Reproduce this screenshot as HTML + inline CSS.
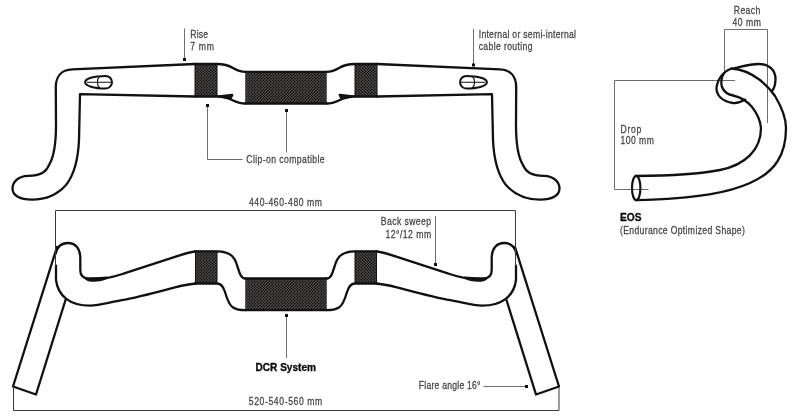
<!DOCTYPE html>
<html><head><meta charset="utf-8">
<style>
html,body{margin:0;padding:0;background:#fff;width:800px;height:417px;overflow:hidden}
svg{display:block;will-change:transform}
text{font-family:"Liberation Sans",sans-serif;fill:#444;font-size:10.5px;stroke:#444;stroke-width:0.25px}
.b{fill:#0a0a0a;stroke:#0a0a0a;stroke-width:0.3px;font-weight:bold}
.o{fill:none;stroke:#111;stroke-width:2.3;stroke-linecap:round;stroke-linejoin:round}
.g{fill:none;stroke:#3a3a3a;stroke-width:1}
.gl{fill:none;stroke:#6e6e6e;stroke-width:1}
</style></head>
<body>
<svg width="800" height="417" viewBox="0 0 800 417">
<defs>
<pattern id="tex" width="3" height="3" patternUnits="userSpaceOnUse">
<rect width="3" height="3" fill="#4a4545"/>
<circle cx="0.75" cy="0.75" r="0.75" fill="#0a0a0a"/>
<circle cx="2.25" cy="2.25" r="0.75" fill="#0a0a0a"/>
</pattern>
<g id="topL">
<path class="o" d="M195,64 C150,66 110,68 72,69.4 C62,69.8 55.8,76 55.8,87 L56,125 C56,145 54,157 49,165 C46,172 41,175.5 28,175.8 C18,176 12.5,182 12.5,188.5 C12.5,195 19,199.6 32,199.6 C47,199.6 58,194 66,185 C74,175 78,162 79,140 L80,94.2 L195,96.5"/>
<rect x="195" y="64" width="22" height="32.5" fill="url(#tex)" stroke="#111" stroke-width="1"/>
<path stroke="#111" stroke-width="1" d="M246,72 L246,103.5"/>
<path class="o" d="M195,64 L217,64 C223,64 228,65 233,68 C237,70.5 240,71.8 245.5,71.8"/>
<path class="o" d="M195,96.5 L217,96.5 C224,96.8 228,98 231.5,99.7 C236,102 239,103.5 245.5,103.5"/>
<path fill="#111" d="M217,95.6 L232,93.8 C233.4,93.7 233.8,94.8 233.2,95.8 L231.2,99.6 C226,97.6 222,97 217,97 Z"/>
<path fill="#fff" stroke="#111" stroke-width="2" transform="translate(0.8,0)" d="M84.3,82.2 C84.3,78.6 93,75.9 104.9,75.9 A6.3,6.3 0 0 1 104.9,88.5 C93,88.5 84.3,85.8 84.3,82.2 Z"/>
<path fill="none" stroke="#111" stroke-width="1.1" transform="translate(0.8,0)" d="M99,76.3 C95.8,79 95.8,85.5 99,88.2 M86,82.2 L110.5,82.2"/>
</g>
<g id="botL">
<path class="o" d="M57,247 L13,386.5 L36,394.5 L65.5,300"/>
<path class="o" d="M55.5,254 C57,247 61,243 67.8,243 C75,243 80.3,248 80.3,258 L80.3,270 C80.3,275.5 82.5,278.2 88,278.4 C98,278.6 104,278 110,277.3 C117,276 121,274.5 125,273.2 C135,270 150,265 175,256.8 C185,253.5 190,252 196,251.5"/>
<path fill="#111" d="M84,278 C90,279 102,278.8 111,277 C106,280.5 99,281.8 92,281.8 C88,281.8 85.5,280.5 84,278 Z"/>
<path class="o" d="M56,265.6 L56,280 C58,296 70,305.6 90,305.6 C100,305.6 110,302 125,299.6 C140,296.5 150,294 175,287.3 C185,285 190,284 196,283.5"/>
<rect x="195.5" y="251.3" width="21.5" height="32.2" fill="url(#tex)" stroke="#111" stroke-width="1"/>
<path stroke="#111" stroke-width="1" d="M246,278.5 L246,310.2"/>
<path class="o" d="M195,251.3 L217,251.3 C227,251.3 232,254 235,260 C237.5,265 238.5,271 240.5,275 C241.5,277 243,278.5 245.5,278.5"/>
<path class="o" d="M195,283.5 L217,283.5 C221.5,283.5 223.5,287 225,292 C227,299 229,305 233,307.5 C236,309.3 239,310.2 245.5,310.2"/>
</g>
</defs>
<rect width="800" height="417" fill="#fff"/>
<!-- top handlebar -->
<use href="#topL"/>
<use href="#topL" transform="translate(572,0) scale(-1,1)"/>
<!-- bottom handlebar -->
<use href="#botL"/>
<use href="#botL" transform="translate(572,0) scale(-1,1)"/>
<!-- center textures -->
<rect x="245.5" y="71.8" width="81" height="31.7" fill="url(#tex)"/>
<path class="o" d="M245.5,71.8 L326.5,71.8 M245.5,103.5 L326.5,103.5"/>
<rect x="245.5" y="278.5" width="81" height="31.7" fill="url(#tex)"/>
<path class="o" d="M245.5,278.5 L326.5,278.5 M245.5,310.2 L326.5,310.2"/>

<!-- brackets -->
<path class="g" d="M55.5,266 L55.5,210.5 L515.5,210.5 L515.5,266"/>
<path class="g" d="M13.5,386.5 L13.5,410.5 L559,410.5 L559,387"/>

<!-- leaders -->
<path class="gl" d="M184.5,28.5 L184.5,59"/>
<rect x="183" y="58" width="3" height="3" fill="#111"/>
<path class="gl" d="M473.5,29 L473.5,64"/>
<rect x="472" y="63.5" width="3" height="3" fill="#111"/>
<path class="gl" d="M207.5,105 L207.5,159.5 L242.5,159.5"/>
<rect x="206" y="104" width="3" height="3" fill="#111"/>
<path class="gl" d="M286.5,110 L286.5,152.5"/>
<rect x="285" y="109" width="3" height="3" fill="#111"/>
<path class="gl" d="M435.5,216 L435.5,263"/>
<rect x="434" y="263" width="3" height="3" fill="#111"/>
<path class="gl" d="M286.5,316 L286.5,358"/>
<rect x="285" y="314" width="3" height="3" fill="#111"/>
<path class="gl" d="M483.5,386.5 L526,386.5"/>
<rect x="525" y="385" width="3" height="3" fill="#111"/>

<!-- EOS -->
<path class="gl" d="M724.5,71 L724.5,29.5 L767.5,29.5 L767.5,123"/>
<path class="gl" d="M735,80.5 L614.5,80.5 L614.5,189.5 L648.5,189.5"/>
<path class="o" d="M731.5,68.5 C740,69 750,72.5 760,80 C766,85 771,90 775,96 C781,106 786,118 786,128 C786,155 775,172 750,183 C730,192 700,198.5 636,200.2"/>
<path class="o" d="M723.7,73.7 C721.5,77 720.5,83 722,87 C724,92 728,94.5 733,95.5 C740,97 747,101 752,107 C756,112 760,118 761,128 C761,150 745,165 720,170 C700,174 670,175.8 636,176"/>
<path class="o" d="M734.5,68.2 C742,66.5 750,64 759,64 C769,64 775.5,70 775.5,79 C775.5,84 774.5,88 772,91"/>
<path class="o" d="M731.5,68.5 C724,71 718,78 716.5,87.4 C716,95 722,101.5 733,103 C738,103.5 742,101.5 745.3,99.6"/>
<ellipse cx="636.2" cy="188" rx="4.2" ry="12.2" fill="none" stroke="#111" stroke-width="2.2"/>

<!-- texts -->
<text transform="translate(190.3,37.9) scale(0.82,1)" textLength="21.71" lengthAdjust="spacing">Rise</text>
<text transform="translate(190.3,50.2) scale(0.82,1)" textLength="28.78" lengthAdjust="spacing">7 mm</text>
<text transform="translate(478.7,38.2) scale(0.82,1)" textLength="118.66" lengthAdjust="spacing">Internal or semi-internal</text>
<text transform="translate(478.7,50.0) scale(0.82,1)" textLength="65.61" lengthAdjust="spacing">cable routing</text>
<text transform="translate(246.3,162.5) scale(0.82,1)" textLength="95.49" lengthAdjust="spacing">Clip-on compatible</text>
<text transform="translate(249.0,205.8) scale(0.82,1)" textLength="89.02" lengthAdjust="spacing">440-460-480 mm</text>
<text transform="translate(380.8,225.2) scale(0.82,1)" textLength="61.34" lengthAdjust="spacing">Back sweep</text>
<text transform="translate(385.5,237.8) scale(0.82,1)" textLength="55.61" lengthAdjust="spacing">12°/12 mm</text>
<text class="b" transform="translate(255.5,371.2) scale(1,1)" textLength="60.50" lengthAdjust="spacingAndGlyphs">DCR System</text>
<text transform="translate(418.8,388.7) scale(0.82,1)" textLength="75.24" lengthAdjust="spacing">Flare angle 16°</text>
<text transform="translate(248.8,405.0) scale(0.82,1)" textLength="89.63" lengthAdjust="spacing">520-540-560 mm</text>
<text transform="translate(733.8,13.5) scale(0.82,1)" textLength="32.32" lengthAdjust="spacing">Reach</text>
<text transform="translate(732.5,26.0) scale(0.82,1)" textLength="34.76" lengthAdjust="spacing">40 mm</text>
<text transform="translate(620.5,132.5) scale(0.82,1)" textLength="25.49" lengthAdjust="spacing">Drop</text>
<text transform="translate(620.5,144.4) scale(0.82,1)" textLength="40.73" lengthAdjust="spacing">100 mm</text>
<text class="b" transform="translate(620.0,221.0) scale(1,1)" textLength="21.50" lengthAdjust="spacingAndGlyphs">EOS</text>
<text transform="translate(620.0,233.5) scale(0.82,1)" textLength="152.20" lengthAdjust="spacing">(Endurance Optimized Shape)</text>
</svg>
</body></html>
